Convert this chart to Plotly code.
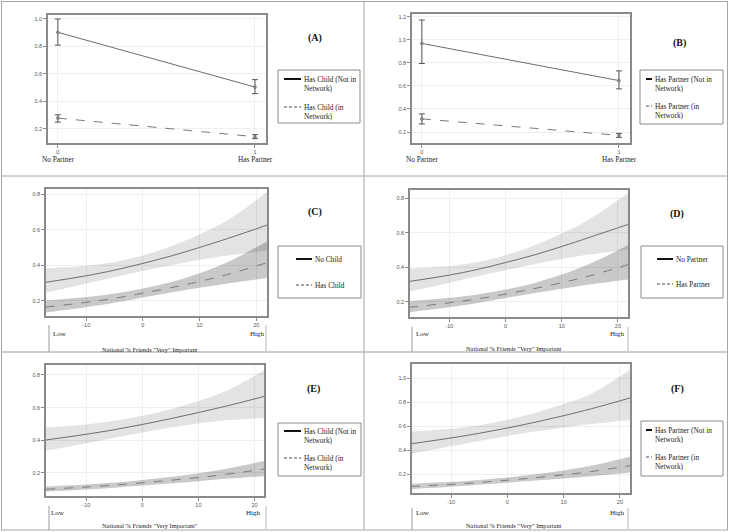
import plotly.graph_objects as go

W, H = 729, 532

# ---------------- data ----------------
partner_x = [0, 1]
partner_labels = ["No Partner", "Has Partner"]

A_notnet = [0.903, 0.505]
A_notnet_lo = [0.810, 0.457]
A_notnet_hi = [1.000, 0.559]
A_net = [0.279, 0.144]
A_net_lo = [0.250, 0.130]
A_net_hi = [0.303, 0.159]

B_notnet = [0.968, 0.646]
B_notnet_lo = [0.794, 0.574]
B_notnet_hi = [1.171, 0.730]
B_net = [0.314, 0.171]
B_net_lo = [0.270, 0.154]
B_net_hi = [0.357, 0.188]

nat_x = [-17.2, -10, -5, 0, 5, 10, 15, 22]

C_solid = [0.303, 0.340, 0.372, 0.410, 0.452, 0.500, 0.551, 0.627]
C_solid_lo = [0.243, 0.296, 0.332, 0.367, 0.400, 0.430, 0.455, 0.482]
C_solid_hi = [0.382, 0.396, 0.418, 0.455, 0.507, 0.575, 0.655, 0.815]
C_dash = [0.163, 0.190, 0.213, 0.242, 0.273, 0.308, 0.348, 0.415]
C_dash_lo = [0.133, 0.163, 0.188, 0.218, 0.246, 0.272, 0.297, 0.328]
C_dash_hi = [0.200, 0.220, 0.240, 0.268, 0.305, 0.355, 0.418, 0.535]

D_solid = [0.317, 0.354, 0.387, 0.427, 0.470, 0.520, 0.574, 0.650]
D_solid_lo = [0.258, 0.310, 0.347, 0.383, 0.416, 0.447, 0.473, 0.502]
D_solid_hi = [0.392, 0.407, 0.430, 0.470, 0.525, 0.595, 0.680, 0.835]
D_dash = [0.167, 0.193, 0.216, 0.244, 0.275, 0.310, 0.350, 0.417]
D_dash_lo = [0.138, 0.167, 0.192, 0.221, 0.249, 0.275, 0.300, 0.330]
D_dash_hi = [0.202, 0.222, 0.242, 0.270, 0.307, 0.357, 0.420, 0.530]

E_solid = [0.402, 0.437, 0.465, 0.497, 0.532, 0.570, 0.610, 0.671]
E_solid_lo = [0.337, 0.382, 0.416, 0.448, 0.478, 0.503, 0.522, 0.537]
E_solid_hi = [0.480, 0.497, 0.519, 0.550, 0.590, 0.640, 0.703, 0.835]
E_dash = [0.100, 0.114, 0.126, 0.140, 0.155, 0.172, 0.192, 0.225]
E_dash_lo = [0.086, 0.099, 0.110, 0.123, 0.136, 0.150, 0.164, 0.180]
E_dash_hi = [0.117, 0.129, 0.141, 0.157, 0.176, 0.198, 0.226, 0.275]

F_solid = [0.453, 0.502, 0.541, 0.585, 0.634, 0.688, 0.747, 0.839]
F_solid_lo = [0.367, 0.432, 0.477, 0.519, 0.556, 0.589, 0.618, 0.653]
F_solid_hi = [0.556, 0.578, 0.609, 0.654, 0.712, 0.785, 0.873, 1.078]
F_dash = [0.097, 0.114, 0.130, 0.149, 0.170, 0.194, 0.222, 0.272]
F_dash_lo = [0.075, 0.094, 0.110, 0.128, 0.146, 0.164, 0.183, 0.214]
F_dash_hi = [0.119, 0.135, 0.151, 0.172, 0.198, 0.230, 0.271, 0.347]

nat_ticks = [-10, 0, 10, 20]
legend_AB = {
    "A": ("Has Child (Not in<br>Network)", "Has Child (in<br>Network)"),
    "B": ("Has Partner (Not in<br>Network)", "Has Partner (in<br>Network)"),
    "C": ("No Child", "Has Child"),
    "D": ("No Partner", "Has Partner"),
    "E": ("Has Child (Not in<br>Network)", "Has Child (in<br>Network)"),
    "F": ("Has Partner (Not in<br>Network)", "Has Partner (in<br>Network)"),
}
axis_title_CD = 'National % Friends "Very" Important'
axis_title_E = 'National % Friends "Very Important"'

# ---------------- helpers ----------------
def px(x):
    return x / W

def py(y):
    return 1 - y / H

SERIF = "Liberation Serif, Times New Roman, serif"
SANS = "Liberation Sans, Arial, sans-serif"
LINE_SOLID = "#6e6e6e"
LINE_DASH = "#7a7a7a"

fig = go.Figure()
shapes = []
annotations = []

panels = {
    # name: (xdom px, ydom px, xrange, yrange, yticks)
    "A": ((48, 266), (15, 143), [-0.05, 1.056], [0.098, 1.029], [0.2, 0.4, 0.6, 0.8, 1.0]),
    "B": ((412, 630), (14, 143), [-0.05, 1.056], [0.105, 1.223], [0.2, 0.4, 0.6, 0.8, 1.0, 1.2]),
    "C": ((46, 267), (189, 316), [-17.1, 21.9], [0.113, 0.830], [0.2, 0.4, 0.6, 0.8]),
    "D": ((410, 628), (190, 317), [-17.0, 21.8], [0.111, 0.848], [0.2, 0.4, 0.6, 0.8]),
    "E": ((46, 264), (365, 496), [-17.2, 21.7], [0.059, 0.861], [0.2, 0.4, 0.6, 0.8]),
    "F": ((412, 630), (364, 493), [-16.96, 21.8], [0.042, 1.120], [0.2, 0.4, 0.6, 0.8, 1.0]),
}

layout_axes = {}
for i, (name, (xd, yd, xr, yr, yt)) in enumerate(panels.items()):
    n = "" if i == 0 else str(i + 1)
    is_cat = name in ("A", "B")
    layout_axes["xaxis" + n] = dict(
        domain=[px(xd[0]), px(xd[1])], range=xr, anchor="y" + n,
        tickvals=partner_x if is_cat else nat_ticks,
        ticktext=["0", "1"] if is_cat else [str(t) for t in nat_ticks],
        showgrid=True, gridcolor="#efefef", gridwidth=1, zeroline=False,
        showline=True, linecolor="#8a8a8a", linewidth=1.5, mirror=True,
        ticks="outside", ticklen=3, tickcolor="#8a8a8a", tickwidth=1,
        tickfont=dict(family=SANS, size=5.5, color="#555"),
    )
    layout_axes["yaxis" + n] = dict(
        domain=[py(yd[1]), py(yd[0])], range=yr, anchor="x" + n,
        tickvals=yt, ticktext=["%.1f" % v for v in yt],
        showgrid=True, gridcolor="#efefef", gridwidth=1, zeroline=False,
        showline=True, linecolor="#8a8a8a", linewidth=1.5, mirror=True,
        ticks="outside", ticklen=3, tickcolor="#8a8a8a", tickwidth=1,
        tickfont=dict(family=SANS, size=5.5, color="#555"),
    )

def errs(v, lo, hi):
    return [h - m for m, h in zip(v, hi)], [m - l for m, l in zip(v, lo)]

def add_points(n, v, lo, hi, dash, color):
    up, dn = errs(v, lo, hi)
    fig.add_trace(go.Scatter(
        x=partner_x, y=v, mode="lines+markers", xaxis="x" + n, yaxis="y" + n,
        line=dict(color=color, width=1, dash=dash),
        marker=dict(symbol="circle", size=3, color="#8a8a8a", line=dict(color="#666", width=0.5)),
        error_y=dict(type="data", array=up, arrayminus=dn, color="#555", thickness=1, width=3),
        showlegend=False, hoverinfo="skip"))

def add_band(n, lo, hi, fillcolor):
    fig.add_trace(go.Scatter(x=nat_x, y=hi, mode="lines", line=dict(width=0, shape="spline"),
                             xaxis="x" + n, yaxis="y" + n, showlegend=False, hoverinfo="skip"))
    fig.add_trace(go.Scatter(x=nat_x, y=lo, mode="lines", line=dict(width=0, shape="spline"),
                             fill="tonexty", fillcolor=fillcolor,
                             xaxis="x" + n, yaxis="y" + n, showlegend=False, hoverinfo="skip"))

def add_curve(n, v, dash, color):
    fig.add_trace(go.Scatter(x=nat_x, y=v, mode="lines", line=dict(color=color, width=1, dash=dash, shape="spline"),
                             xaxis="x" + n, yaxis="y" + n, showlegend=False, hoverinfo="skip"))

add_points("", A_notnet, A_notnet_lo, A_notnet_hi, "solid", LINE_SOLID)
add_points("", A_net, A_net_lo, A_net_hi, "dash", LINE_DASH)
add_points("2", B_notnet, B_notnet_lo, B_notnet_hi, "solid", LINE_SOLID)
add_points("2", B_net, B_net_lo, B_net_hi, "dash", LINE_DASH)

curve_data = {
    "3": (C_solid, C_solid_lo, C_solid_hi, C_dash, C_dash_lo, C_dash_hi),
    "4": (D_solid, D_solid_lo, D_solid_hi, D_dash, D_dash_lo, D_dash_hi),
    "5": (E_solid, E_solid_lo, E_solid_hi, E_dash, E_dash_lo, E_dash_hi),
    "6": (F_solid, F_solid_lo, F_solid_hi, F_dash, F_dash_lo, F_dash_hi),
}
for n, (s, slo, shi, d, dlo, dhi) in curve_data.items():
    add_band(n, slo, shi, "rgba(0,0,0,0.11)")
    add_band(n, dlo, dhi, "rgba(0,0,0,0.21)")
    add_curve(n, s, "solid", LINE_SOLID)
    add_curve(n, d, "dash", LINE_DASH)

# ---------------- table grid ----------------
GRID = "#a6a6a6"
def hline(x0, x1, y, color=GRID, w=1):
    shapes.append(dict(type="line", xref="paper", yref="paper", x0=px(x0), x1=px(x1), y0=py(y), y1=py(y),
                       line=dict(color=color, width=w)))
def vline(x, y0, y1, color=GRID, w=1):
    shapes.append(dict(type="line", xref="paper", yref="paper", x0=px(x), x1=px(x), y0=py(y0), y1=py(y1),
                       line=dict(color=color, width=w)))

hline(1, 728, 1.5)
hline(1, 728, 176)
hline(1, 728, 352, color="#bdbdbd", w=1.5)
hline(1, 728, 530)
vline(1.5, 1, 530)
vline(364, 1, 530)
vline(727.5, 1, 530)

# sub-rows under C-F plots
for (xl, xr, y0, y1) in [(49, 266, 325, 352), (412, 628, 327, 352), (49, 266, 506, 530), (412, 628, 508, 530)]:
    vline(xl, y0, y1, color="#9a9a9a", w=1)
    vline(xr, y0, y1, color="#cfcfcf", w=1.5)

# ---------------- panel letters ----------------
for lab, (x, y) in {"A": (315, 38), "B": (679, 43), "C": (315, 212), "D": (677, 214),
                    "E": (313, 389), "F": (677, 389)}.items():
    annotations.append(dict(xref="paper", yref="paper", x=px(x), y=py(y), text="<b>(%s)</b>" % lab,
                            showarrow=False, font=dict(family=SERIF, size=10, color="#111"),
                            xanchor="center", yanchor="middle"))

# ---------------- legend boxes ----------------
legend_geo = {
    # box (x0,y0,x1,y1), sample x0,x1, text x, item y1, item y2
    "A": ((278, 70, 360, 123), 284, 301, 302, 84, 112),
    "B": ((640, 70, 723, 124), 646, 652, 653, 84, 111),
    "C": ((278, 246, 361, 298), 296, 312, 313, 259, 285),
    "D": ((641, 246, 723, 298), 657, 673, 674, 259, 284),
    "E": ((278, 423, 361, 476), 284, 301, 302, 436, 463),
    "F": ((641, 421, 723, 476), 646, 652, 653, 435, 462),
}
for lab, (box, sx0, sx1, tx, y1, y2) in legend_geo.items():
    shapes.append(dict(type="rect", xref="paper", yref="paper", x0=px(box[0]), x1=px(box[2]),
                       y0=py(box[3]), y1=py(box[1]), line=dict(color="#8a8a8a", width=1), fillcolor="white"))
    t1, t2 = legend_AB[lab]
    two = "<br>" in t1
    ly1 = y1 - 5 if two else y1
    ly2 = y2 - 5 if two else y2
    shapes.append(dict(type="line", xref="paper", yref="paper", x0=px(sx0), x1=px(sx1), y0=py(ly1), y1=py(ly1),
                       line=dict(color="#111", width=2)))
    shapes.append(dict(type="line", xref="paper", yref="paper", x0=px(sx0), x1=px(sx1), y0=py(ly2), y1=py(ly2),
                       line=dict(color="#888", width=1.5, dash="3px,2px")))
    for t, yy in ((t1, y1), (t2, y2)):
        annotations.append(dict(xref="paper", yref="paper", x=px(tx), y=py(yy), text=t, showarrow=False,
                                align="left", xanchor="left", yanchor="middle",
                                font=dict(family=SERIF, size=7.3, color="#222")))

# ---------------- x category labels A/B ----------------
for (x0, x1) in [(58, 255), (422, 619)]:
    for xx, t in zip((x0, x1), partner_labels):
        annotations.append(dict(xref="paper", yref="paper", x=px(xx), y=py(159), text=t, showarrow=False,
                                xanchor="center", yanchor="middle",
                                font=dict(family=SERIF, size=7.3, color="#222")))

# ---------------- Low / High / axis titles ----------------
for (lx, hx, ly, tx, ty, title) in [(60, 257, 334, 150, 349, axis_title_CD),
                                    (423, 617, 334, 514, 348, axis_title_CD),
                                    (58, 253, 513, 150, 525, axis_title_E),
                                    (423, 617, 513, 514, 525, axis_title_CD)]:
    annotations.append(dict(xref="paper", yref="paper", x=px(lx), y=py(ly), text="Low", showarrow=False,
                            xanchor="center", yanchor="middle", font=dict(family=SERIF, size=7, color="#222")))
    annotations.append(dict(xref="paper", yref="paper", x=px(hx), y=py(ly), text="High", showarrow=False,
                            xanchor="center", yanchor="middle", font=dict(family=SERIF, size=7, color="#222")))
    annotations.append(dict(xref="paper", yref="paper", x=px(tx), y=py(ty), text=title, showarrow=False,
                            xanchor="center", yanchor="middle", font=dict(family=SERIF, size=6.4, color="#222")))

fig.update_layout(
    width=W, height=H, margin=dict(l=0, r=0, t=0, b=0),
    paper_bgcolor="white", plot_bgcolor="white",
    shapes=shapes, annotations=annotations, showlegend=False,
    **layout_axes,
)
fig.write_html("out.html", config={"displayModeBar": False},
               post_script="document.body.style.margin='0';document.body.style.overflow='hidden';")
